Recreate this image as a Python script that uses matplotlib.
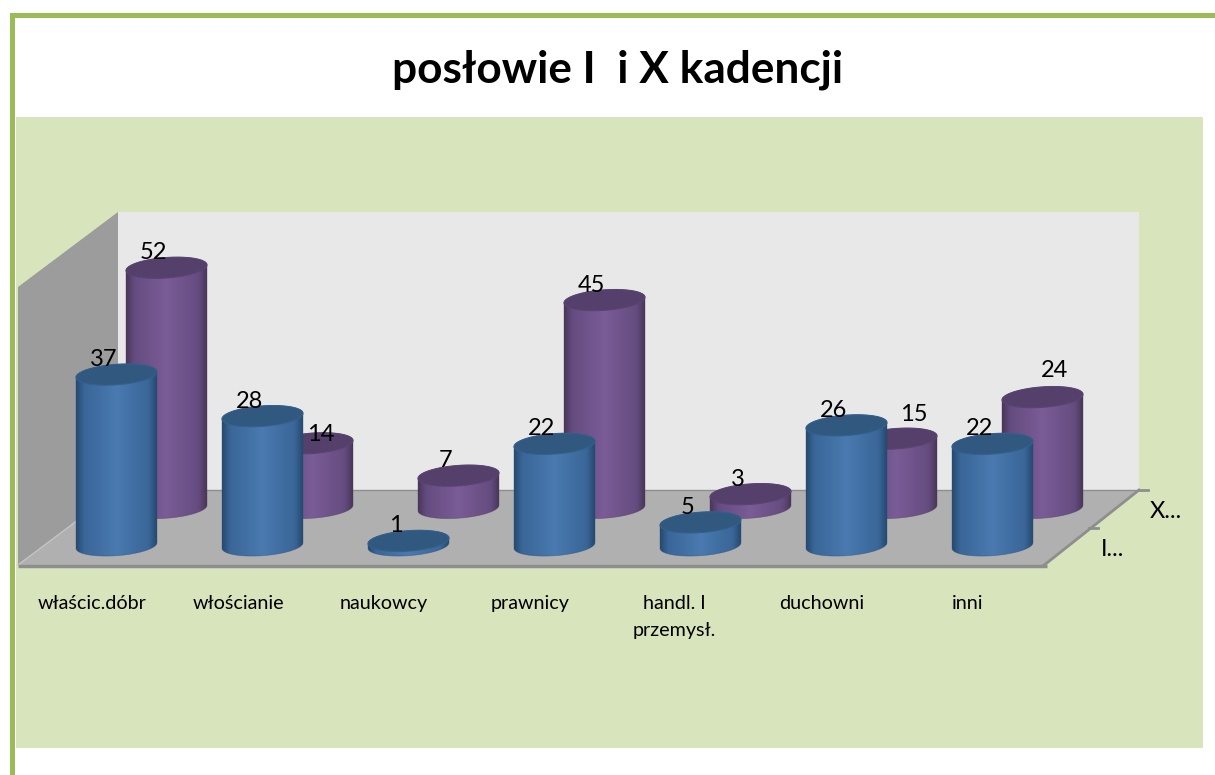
"""Posłowie I i X kadencji: pseudo-3D cylinder chart drawn in pixel coordinates."""
import matplotlib
matplotlib.use("Agg")
import matplotlib.pyplot as plt
import numpy as np
from matplotlib.colors import LinearSegmentedColormap
from matplotlib.patches import Polygon, Rectangle
from matplotlib.path import Path

plt.rcParams["font.family"] = ["Lato", "DejaVu Sans"]

CATEGORIES = ["właścic.dóbr", "włościanie", "naukowcy", "prawnicy",
              "handl. I\nprzemysł.", "duchowni", "inni"]
KADENCJA_I = [37, 28, 1, 22, 5, 26, 22]
KADENCJA_X = [52, 14, 7, 45, 3, 15, 24]
DEPTH_LABELS = ["I...", "X..."]
TITLE = "posłowie I  i X kadencji"

W, H = 1215, 775
STEP = 146
UNIT = 4.62
RX, RY, SHEAR = 40.5, 10.2, 2.8

# per series: left-most centre x, floor y, edge/mid/centre colours, top colour
BLUE = dict(x0=116.5, base=545.5, cols=["#264a70", "#3a6698", "#4a7ab0"], top="#31587f", rim="#34608c")
PURPLE = dict(x0=166.5, base=508.0, cols=["#493759", "#654c80", "#7a5c96"], top="#553f6b", rim="#5a4472")

# hand-placed data labels that Excel pushed away from the default spot
PURPLE_NUDGE = {1: (21, 6), 5: (30, -9), 6: (25, -12)}


def ellipse_pts(cx, cy, t):
    return np.column_stack([cx + RX * np.cos(t), cy - RY * np.sin(t) - SHEAR * np.cos(t)])


def draw_cylinder(ax, cx, value, style, cmap):
    base = style["base"]
    top = base - value * UNIT
    # silhouette: top rim (far half) then bottom rim (near half)
    upper = ellipse_pts(cx, top, np.linspace(0, np.pi, 40))
    lower = ellipse_pts(cx, base, np.linspace(np.pi, 2 * np.pi, 40))
    body = np.vstack([upper, lower, upper[:1]])
    path = Path(body, closed=True)
    img = ax.imshow(np.linspace(0, 1, 128)[None, :], cmap=cmap, aspect="auto",
                    extent=(cx - RX, cx + RX, base + RY + 4, top - RY - 4), zorder=3)
    img.set_clip_path(path, ax.transData)
    ax.add_patch(Polygon(body, closed=True, fill=False, ec=style["cols"][0], lw=0.5, alpha=0.5, zorder=3))
    cap = ellipse_pts(cx, top, np.linspace(0, 2 * np.pi, 80))
    ax.add_patch(Polygon(cap, closed=True, fc=style["top"], ec=style["rim"], lw=0.8, zorder=3))


def make_cmap(cols):
    edge, mid, centre = cols
    return LinearSegmentedColormap.from_list(
        "cyl", [(0, edge), (0.1, mid), (0.5, centre), (0.9, mid), (1, edge)])


def main():
    fig = plt.figure(figsize=(W / 100, H / 100), dpi=100, facecolor="white")
    ax = fig.add_axes([0, 0, 1, 1])
    ax.axis("off")

    # page frame and panel
    ax.add_patch(Rectangle((16, 117), 1187, 631, fc="#d8e4bc", ec="none"))
    ax.add_patch(Rectangle((10, 13), 5, 762, fc="#9bbb59", ec="none"))
    ax.add_patch(Rectangle((10, 13), 1205, 5, fc="#9bbb59", ec="none"))

    # walls and floor
    ax.add_patch(Rectangle((118, 212), 1021, 278, fc="#e8e8e8", ec="none"))
    ax.add_patch(Polygon([(18, 287), (118, 212), (118, 490), (18, 565)], fc="#9c9c9c", ec="none"))
    ax.add_patch(Polygon([(18, 565), (118, 490), (1139, 490), (1043, 565)], fc="#b0b0b0", ec="none"))
    ax.plot([118, 1139], [489.5, 489.5], color="#8e8e8e", lw=1)
    ax.plot([18, 118], [565, 490], color="#c4c4c4", lw=1)
    ax.plot([18, 1047], [566, 566], color="#8e8e8e", lw=2.5, solid_capstyle="butt")
    ax.plot([1043, 1139], [566, 490], color="#8e8e8e", lw=2)
    ax.plot([1139, 1148], [490, 490], color="#8e8e8e", lw=2)
    ax.plot([1089, 1098], [528, 528], color="#8e8e8e", lw=2)

    # back row first, the front row hides it
    for values, style in [(KADENCJA_X, PURPLE), (KADENCJA_I, BLUE)]:
        cmap = make_cmap(style["cols"])
        for i, v in enumerate(values):
            draw_cylinder(ax, style["x0"] + i * STEP, v, style, cmap)

    for values, style, nudge in [(KADENCJA_X, PURPLE, PURPLE_NUDGE), (KADENCJA_I, BLUE, {})]:
        for i, v in enumerate(values):
            dx, dy = nudge.get(i, (0, 0))
            ax.text(style["x0"] + i * STEP - 13 + dx, style["base"] - v * UNIT - 15 + dy, str(v),
                    ha="center", va="center", fontsize=17, color="black", zorder=5)

    for i, name in enumerate(CATEGORIES):
        ax.text(92 + i * STEP - (2 if i == 4 else 0), 595, name, ha="center", va="top",
                fontsize=14.2, color="black", linespacing=1.7, zorder=5)

    ax.text(1113, 549, DEPTH_LABELS[0], ha="center", va="center", fontsize=17)
    ax.text(1166, 511, DEPTH_LABELS[1], ha="center", va="center", fontsize=17)
    ax.text(618, 70, TITLE, ha="center", va="center", fontsize=31.8, fontweight="bold")

    ax.set_xlim(0, W)
    ax.set_ylim(H, 0)
    fig.savefig("out.png", dpi=100)
    plt.close(fig)


if __name__ == "__main__":
    main()
